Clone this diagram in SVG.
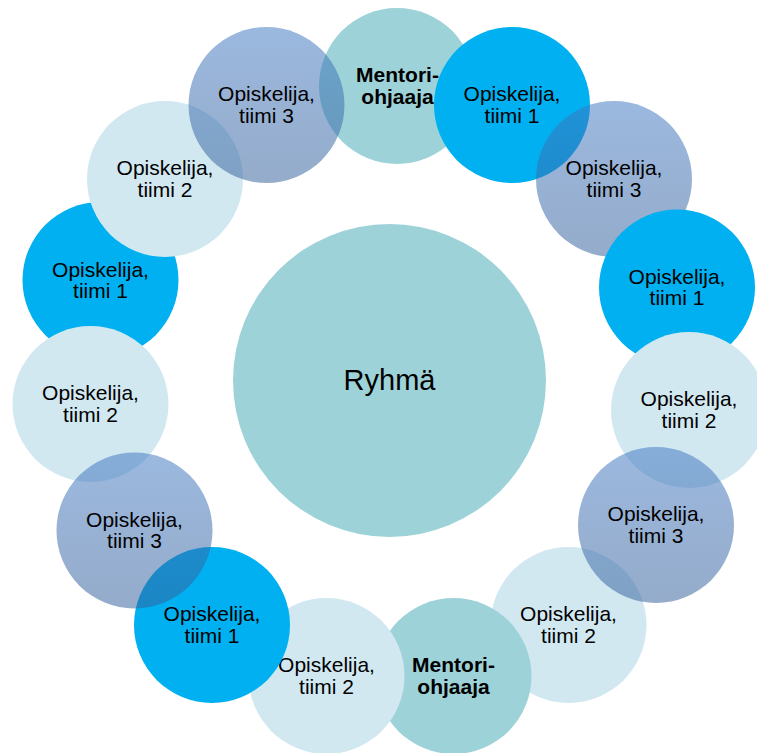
<svg xmlns="http://www.w3.org/2000/svg" width="757" height="753" viewBox="0 0 757 753">
<defs>
<linearGradient id="g3" x1="0" y1="0" x2="0" y2="1">
<stop offset="0" stop-color="#3f77c1"/>
<stop offset="1" stop-color="#335f9a"/>
</linearGradient>
</defs>
<style>
.m{fill:#9dd3d8}
.t1{fill:#00b0f0}
.t2{fill:#d2e8f1}
.t3{fill:url(#g3);fill-opacity:0.522}
.lbl{font-family:"Liberation Sans",Arial,sans-serif;font-size:21px;text-anchor:middle;fill:#000}
.b{font-weight:bold}
.big{font-size:29px}
</style>
<rect width="757" height="753" fill="#fff"/>
<g id="ryhma"><circle class="m" cx="389.5" cy="380.5" r="156.5"/><text class="lbl big" x="389.5" y="390">Ryhmä</text></g>
<g id="mentor-top"><circle class="m" cx="397" cy="86" r="78"/><text class="lbl b" x="397.5" y="82">Mentori-<tspan x="397.5" dy="21.7">ohjaaja</tspan></text></g>
<g id="t1-a"><circle class="t1" cx="512" cy="105" r="78"/><text class="lbl" x="512" y="101">Opiskelija,<tspan x="512" dy="21.7">tiimi 1</tspan></text></g>
<g id="t3-a"><circle class="t3" cx="614" cy="179" r="78"/><text class="lbl" x="614" y="175">Opiskelija,<tspan x="614" dy="21.7">tiimi 3</tspan></text></g>
<g id="t1-b"><circle class="t1" cx="677" cy="287.5" r="78"/><text class="lbl" x="677" y="283.5">Opiskelija,<tspan x="677" dy="21.7">tiimi 1</tspan></text></g>
<g id="t2-a"><circle class="t2" cx="689" cy="410" r="78"/><text class="lbl" x="689" y="406">Opiskelija,<tspan x="689" dy="21.7">tiimi 2</tspan></text></g>
<g id="t2-b"><circle class="t2" cx="568.5" cy="625" r="78"/><text class="lbl" x="568.5" y="621">Opiskelija,<tspan x="568.5" dy="21.7">tiimi 2</tspan></text></g>
<g id="t3-b"><circle class="t3" cx="656" cy="525" r="78"/><text class="lbl" x="656" y="521">Opiskelija,<tspan x="656" dy="21.7">tiimi 3</tspan></text></g>
<g id="mentor-bottom"><circle class="m" cx="453.5" cy="676" r="78"/><text class="lbl b" x="453.5" y="672">Mentori-<tspan x="453.5" dy="21.7">ohjaaja</tspan></text></g>
<g id="t2-c"><circle class="t2" cx="326.5" cy="676" r="78"/><text class="lbl" x="326.5" y="672">Opiskelija,<tspan x="326.5" dy="21.7">tiimi 2</tspan></text></g>
<g id="t1-c"><circle class="t1" cx="212" cy="625" r="78"/><text class="lbl" x="212" y="621">Opiskelija,<tspan x="212" dy="21.7">tiimi 1</tspan></text></g>
<g id="t1-d"><circle class="t1" cx="100.5" cy="280" r="78"/><text class="lbl" x="100.5" y="276.5">Opiskelija,<tspan x="100.5" dy="21.7">tiimi 1</tspan></text></g>
<g id="t2-d"><circle class="t2" cx="90.5" cy="404" r="78"/><text class="lbl" x="90.5" y="400">Opiskelija,<tspan x="90.5" dy="21.7">tiimi 2</tspan></text></g>
<g id="t3-c"><circle class="t3" cx="134.5" cy="530.5" r="78"/><text class="lbl" x="134.5" y="526.5">Opiskelija,<tspan x="134.5" dy="21.7">tiimi 3</tspan></text></g>
<g id="t2-e"><circle class="t2" cx="165" cy="179" r="78"/><text class="lbl" x="165" y="175">Opiskelija,<tspan x="165" dy="21.7">tiimi 2</tspan></text></g>
<g id="t3-d"><circle class="t3" cx="266.5" cy="105" r="78"/><text class="lbl" x="266.5" y="101">Opiskelija,<tspan x="266.5" dy="21.7">tiimi 3</tspan></text></g>
</svg>
